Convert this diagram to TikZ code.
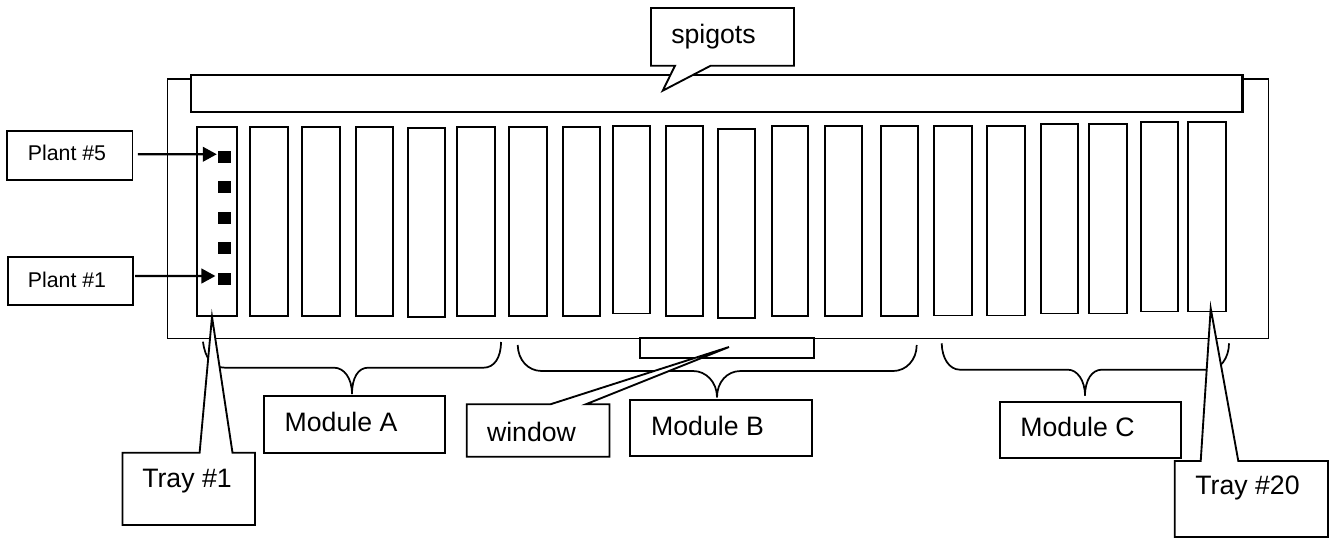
\documentclass[tikz,border=0pt]{standalone}
\usepackage{fontspec}
\setmainfont{Liberation Sans}
\usetikzlibrary{arrows.meta}
\newcommand{\rectnode}[6]{%
  \pgfmathsetmacro\rw{(#5-#3)*0.75}\pgfmathsetmacro\rh{(#6-#4)*0.75}%
  \node[boxline,#1,minimum width=\rw pt,minimum height=\rh pt] (#2) at ({(#3+#5)/2},{(#4+#6)/2}) {};}
\tikzset{
  boxline/.style={draw=black,fill=white,line width=1.4pt,inner sep=0pt,outer sep=0pt,rectangle},
  calloutline/.style={draw=black,fill=white,line width=1.4pt,line join=miter},
  braceline/.style={draw=black,line width=1.3pt},
  bigtext/.style={font=\fontsize{20}{22}\selectfont,inner sep=0pt},
  smalltext/.style={font=\fontsize{16}{18}\selectfont,inner sep=0pt},
  plantdot/.style={fill=black,inner sep=0pt,minimum width=9.2pt,minimum height=9.2pt,rectangle},
  pointer/.style={draw=black,line width=1.6pt,-{Triangle[length=10.5pt,width=11pt]}},
}
\begin{document}
\begin{tikzpicture}[x=0.75pt,y=-0.75pt]
\useasboundingbox (0,0) rectangle (1334,538);
% housing and spigot bar
\rectnode{line width=1.2pt}{housing}{167.5}{79.3}{1268.5}{338.3}
\rectnode{line width=1.7pt}{bar}{191}{75}{1242.5}{111.7}
% trays
\foreach \n/\a/\t/\b/\u in {
  1/196.7/126.7/237/315.7, 2/250/126.7/287.7/315.7, 3/302.3/126.7/340/315.7,
  4/356/126.7/393.3/315.7, 5/408/128.3/445/317.3, 6/457.3/126.7/494.7/315.7,
  7/509.3/127.3/546.7/316, 8/562.7/127.3/600/316, 9/612.7/126/650/313.5,
  10/666/126/703/316, 11/717.7/129/755/318, 12/771.7/126/808.3/316,
  13/825/126/862.3/316, 14/880.7/126/917.7/316, 15/934/126/971.7/315.5,
  16/987.3/126/1025/315.5, 17/1041/124.3/1078.3/313.5, 18/1089.3/124.3/1126.7/313.5,
  19/1140.7/122/1178.3/311.5, 20/1188.3/122/1226/311.5}{
  \rectnode{}{tray\n}{\a}{\t}{\b}{\u}
}
% window
\rectnode{}{windowrect}{640.3}{338.3}{813.7}{358}
% plants
\foreach \n/\y in {5/156.8,4/187,3/217.8,2/248,1/278.8}{
  \node[plantdot] (plant\n) at (224.5,\y) {};
}
% plant labels
\rectnode{}{plantbox5}{7.3}{130.7}{132.5}{180.3}
\node[smalltext] (plantlabel5) at (67,153.3) {Plant \#5};
\rectnode{}{plantbox1}{7.7}{256.7}{133}{305}
\node[smalltext] (plantlabel1) at (67,279.7) {Plant \#1};
\draw[pointer,shorten <=4.1pt,shorten >=1pt] ([yshift=0.9pt]plantbox5.east) -- ([yshift=1.9pt]plant5.west);
\draw[pointer,shorten <=1.6pt,shorten >=2pt] ([yshift=3.6pt]plantbox1.east) -- ([yshift=2.1pt]plant1.west);
% braces
\draw[braceline] (203,341.7) .. controls (205,358) and (212,367.7) .. (225,367.7)
  -- (334,367.7) .. controls (344,367.7) and (352,378) .. (352,394);
\draw[braceline] (352,394) .. controls (352,378) and (358,367.7) .. (368,367.7)
  -- (483.6,367.7) .. controls (494,367.7) and (501,358) .. (501,342);
\draw[braceline] (517.7,345) .. controls (518,360) and (528,371) .. (541.7,371)
  -- (693,371) .. controls (706,371) and (717,382) .. (717,397.3);
\draw[braceline] (717,397.3) .. controls (717,382) and (727,371) .. (740.7,371)
  -- (893.3,371) .. controls (906,371) and (916.7,360) .. (916.7,345);
\draw[braceline] (941.7,343.3) .. controls (942,358) and (949,369.7) .. (960,369.7)
  -- (1068,369.7) .. controls (1077,369.7) and (1085,380) .. (1085,395.7);
\draw[braceline] (1085,395.7) .. controls (1085,380) and (1092,369.7) .. (1101.7,369.7)
  -- (1210,369.7) .. controls (1220,369.7) and (1229,358) .. (1229,343.3);
% modules
\rectnode{}{moduleAbox}{263.6}{396}{445}{452.7}
\node[bigtext] (moduleA) at (341,421.7) {Module A};
\rectnode{}{moduleBbox}{630.3}{400}{811.7}{456}
\node[bigtext] (moduleB) at (707.5,426) {Module B};
\rectnode{}{moduleCbox}{1000}{401.7}{1181}{457.7}
\node[bigtext] (moduleC) at (1077.5,427.3) {Module C};
% callouts
\draw[calloutline] (651,8) -- (794,8) -- (794,65.7) -- (710.7,65.7) -- (662.7,90.7) -- (675,65.7) -- (651,65.7) -- cycle;
\node[bigtext] (spigots) at (713.5,37) {spigots};
\draw[calloutline] (122.5,452.7) -- (199.6,452.7) -- (212,316.7) -- (232.5,452.7) -- (255,452.7) -- (255,525) -- (122.5,525) -- cycle;
\node[bigtext] (tray1label) at (187,481) {Tray \#1};
\draw[calloutline] (466.8,404.2) -- (550.7,404.2) -- (729,347) -- (586,404.2) -- (609.5,404.2) -- (609.5,456.7) -- (466.8,456.7) -- cycle;
\node[bigtext] (windowlabel) at (531.5,431.5) {window};
\draw[calloutline] (1174.7,461) -- (1200.7,461) -- (1210.7,308.3) -- (1238.3,461) -- (1328,461) -- (1328,537) -- (1174.7,537) -- cycle;
\node[bigtext] (tray20label) at (1247.5,488.3) {Tray \#20};
\end{tikzpicture}
\end{document}
